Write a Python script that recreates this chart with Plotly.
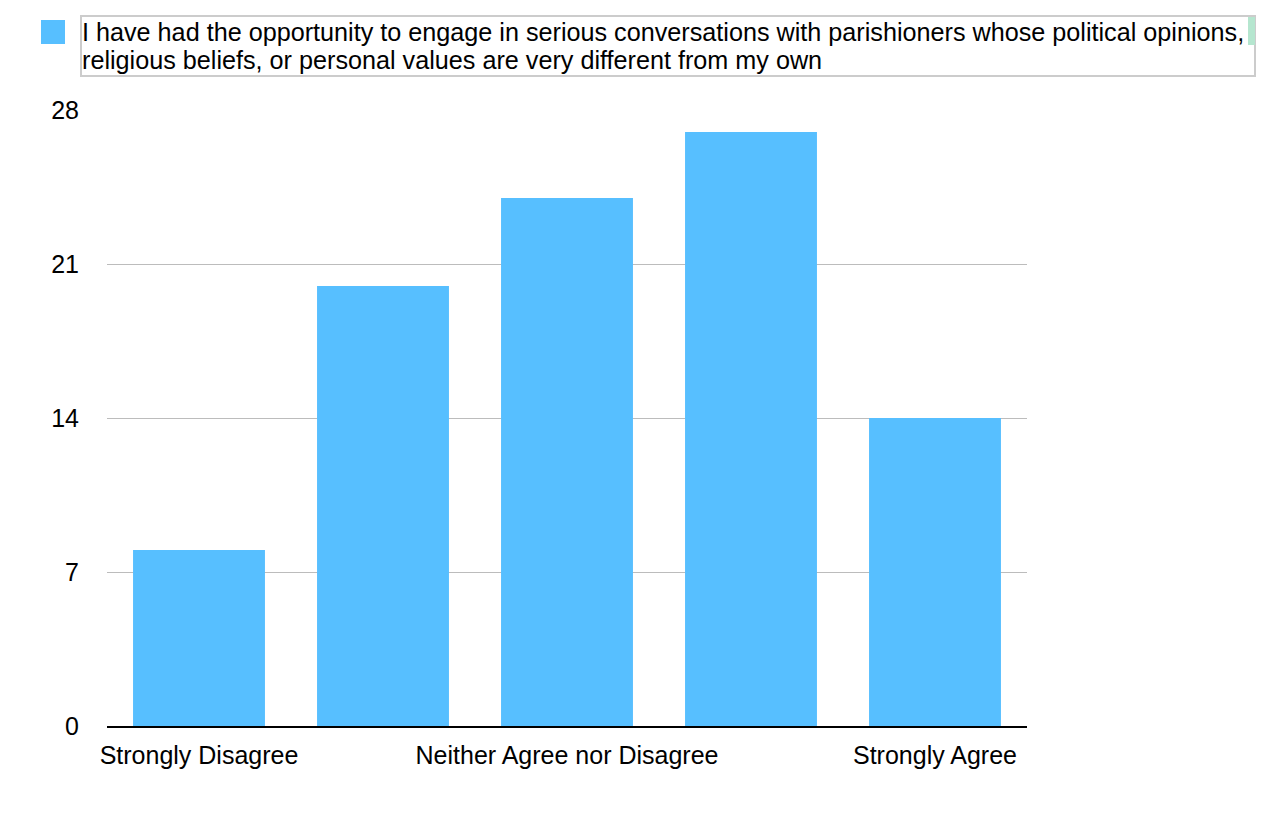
import plotly.graph_objects as go

categories = ["Strongly Disagree", "Disagree", "Neither Agree nor Disagree", "Agree", "Strongly Agree"]
counts = [8, 20, 24, 27, 14]
shown_ticks = ["Strongly Disagree", "Neither Agree nor Disagree", "Strongly Agree"]
y_ticks = [0, 7, 14, 21, 28]
legend_lines = [
    "I have had the opportunity to engage in serious conversations with parishioners whose political opinions,",
    "religious beliefs, or personal values are very different from my own",
]

# page has an 8px body margin, so the figure starts at (8, 8)
OFF = 8
W, H = 1272 - 2 * OFF, 840 - 2 * OFF
PLOT_X0, PLOT_X1, PLOT_Y0, PLOT_Y1 = 107, 1027, 110, 726   # page pixels
L, T = PLOT_X0 - OFF, PLOT_Y0 - OFF
R, B = W - (PLOT_X1 - OFF), H - (PLOT_Y1 - OFF)
PW, PH = PLOT_X1 - PLOT_X0, PLOT_Y1 - PLOT_Y0
BAR_COLOR = "#57bfff"
FONT = "Liberation Sans, Arial, Helvetica, sans-serif"


def px(x):
    return (x - PLOT_X0) / PW


def py(y):
    return (PLOT_Y1 - y) / PH


fig = go.Figure()
fig.add_trace(go.Bar(x=categories, y=counts, marker=dict(color=BAR_COLOR, line=dict(width=0)),
                     name=" ".join(legend_lines), showlegend=False))

# legend drawn by hand: box, swatch and two text lines
shapes = [
    dict(type="rect", xref="paper", yref="paper", x0=px(81), x1=px(1255), y0=py(76), y1=py(16),
         line=dict(color="#cccccc", width=2), fillcolor="rgba(0,0,0,0)"),
    dict(type="rect", xref="paper", yref="paper", x0=px(41), x1=px(65), y0=py(44), y1=py(20),
         line=dict(width=0), fillcolor=BAR_COLOR),
    dict(type="rect", xref="paper", yref="paper", x0=px(1248), x1=px(1255), y0=py(45), y1=py(17),
         line=dict(width=0), fillcolor="#b5e6cf"),
]
annotations = []
for i, line in enumerate(legend_lines):
    annotations.append(dict(text=line, xref="paper", yref="paper", x=px(80), y=py(32.3 + 27.5 * i),
                            xanchor="left", yanchor="middle", showarrow=False,
                            font=dict(size=25.2, color="#000000", family=FONT)))

fig.update_layout(
    width=W, height=H,
    margin=dict(l=L, r=R, t=T, b=B),
    paper_bgcolor="white", plot_bgcolor="white",
    font=dict(family=FONT, size=25, color="#000000"),
    bargap=0.283,
    showlegend=False,
    shapes=shapes,
    annotations=annotations,
    xaxis=dict(
        type="category", range=[-0.5, 4.5],
        tickmode="array", tickvals=shown_ticks, ticktext=shown_ticks,
        showgrid=False, showline=True, linecolor="#000000", linewidth=2,
        ticks="", ticklabelstandoff=6, tickfont=dict(size=25),
    ),
    yaxis=dict(
        range=[0, 28], tickmode="array", tickvals=y_ticks,
        showgrid=True, gridcolor="#bcbcbc", gridwidth=1,
        zeroline=False, showline=False, ticks="",
        ticklabelstandoff=27, tickfont=dict(size=25),
    ),
)

fig.write_html("out.html")
